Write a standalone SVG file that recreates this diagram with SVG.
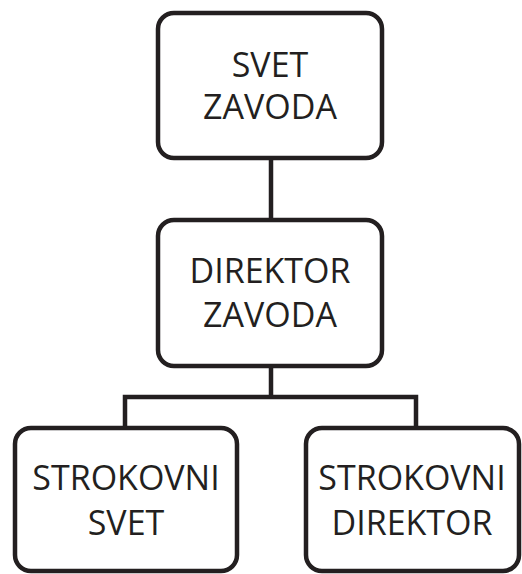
<svg xmlns="http://www.w3.org/2000/svg" width="522" height="574" viewBox="0 0 522 574">
<style>
.box{fill:#fff;stroke:#231f20;stroke-width:4.5}
.lbl{font-family:"Open Sans","Liberation Sans",sans-serif;font-size:34px;fill:#231f20;text-anchor:middle}
.con{fill:none;stroke:#231f20;stroke-width:4.5}
</style>
<g id="connectors">
<line class="con" x1="271" y1="159" x2="271" y2="219"/>
<line class="con" x1="271" y1="367" x2="271" y2="397"/>
<polyline class="con" points="125,427 125,397 416,397 416,427"/>
</g>
<g id="svet-zavoda">
<rect class="box" x="158" y="13" width="224" height="145" rx="16"/>
<text class="lbl" x="270" y="77">SVET</text>
<text class="lbl" x="270" y="119">ZAVODA</text>
</g>
<g id="direktor-zavoda">
<rect class="box" x="158" y="220" width="224" height="146" rx="16"/>
<text class="lbl" x="270" y="283">DIREKTOR</text>
<text class="lbl" x="270" y="327">ZAVODA</text>
</g>
<g id="strokovni-svet">
<rect class="box" x="15" y="428" width="222" height="143" rx="16"/>
<text class="lbl" x="126" y="490">STROKOVNI</text>
<text class="lbl" x="126" y="535">SVET</text>
</g>
<g id="strokovni-direktor">
<rect class="box" x="306" y="428" width="213" height="143" rx="16"/>
<text class="lbl" x="412" y="490">STROKOVNI</text>
<text class="lbl" x="412" y="535">DIREKTOR</text>
</g>
</svg>
